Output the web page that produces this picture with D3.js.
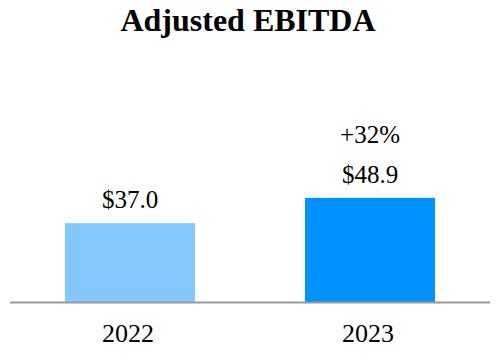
<!DOCTYPE html>
<html><head><meta charset="utf-8">
<script src="https://cdn.jsdelivr.net/npm/d3@7/dist/d3.min.js"></script>
</head><body>
<script>
const categories = ["2022", "2023"];
const values = [37.0, 48.9];
const valueLabels = ["$37.0", "$48.9"];
const colors = ["#82C8FF", "#0092FF"];
const growthLabel = "+32%";
const title = "Adjusted EBITDA";

const W = 500, H = 360;
const FONT = '"Liberation Serif"';
d3.select("body").style("margin", "0px");
const svg = d3.select("body").append("svg").attr("width", W).attr("height", H)
  .style("display", "block");

const x = d3.scaleBand().domain(categories).range([10, 490])
  .paddingInner(110/240).paddingOuter(55/240);
const y = d3.scaleLinear().domain([0, 50]).range([302, 195.5]);

svg.append("text").attr("x", 248).attr("y", 31).attr("text-anchor", "middle")
  .style("font-family", FONT).attr("font-weight", "bold").attr("font-size", 32)
  .text(title);

svg.selectAll("rect.bar").data(values).enter().append("rect").attr("class", "bar")
  .attr("x", (d, i) => x(categories[i]))
  .attr("width", x.bandwidth())
  .attr("y", d => y(d))
  .attr("height", d => y(0) - y(d))
  .attr("fill", (d, i) => colors[i]);

svg.append("line").attr("x1", 10).attr("x2", 490).attr("y1", y(0) + 0.5).attr("y2", y(0) + 0.5)
  .attr("stroke", "#999").attr("stroke-width", 2);

svg.selectAll("text.val").data(values).enter().append("text").attr("class", "val")
  .attr("x", (d, i) => x(categories[i]) + x.bandwidth() / 2)
  .attr("y", d => y(d) - 15)
  .attr("text-anchor", "middle")
  .style("font-family", FONT).attr("font-size", 25)
  .text((d, i) => valueLabels[i]);

svg.append("text")
  .attr("x", x(categories[1]) + x.bandwidth() / 2)
  .attr("y", y(values[1]) - 55)
  .attr("text-anchor", "middle")
  .style("font-family", FONT).attr("font-size", 25)
  .text(growthLabel);

svg.selectAll("text.cat").data(categories).enter().append("text").attr("class", "cat")
  .attr("x", d => x(d) + x.bandwidth() / 2 - 2)
  .attr("y", 342)
  .attr("text-anchor", "middle")
  .style("font-family", FONT).attr("font-size", 26)
  .text(d => d);
</script>
</body></html>
